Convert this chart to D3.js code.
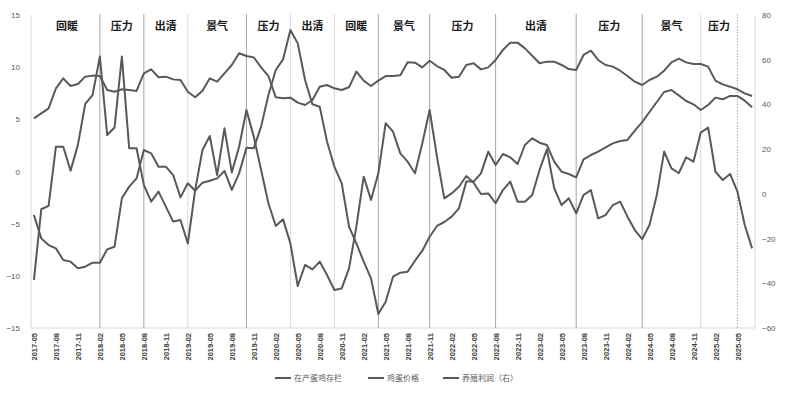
<!DOCTYPE html>
<html><head><meta charset="utf-8">
<script src="https://cdn.jsdelivr.net/npm/d3@7"></script>
<style>body{margin:0;background:#fff}</style>
</head><body><svg id="c" width="787" height="393"></svg>
<script>
const months = ["2017-05","2017-06","2017-07","2017-08","2017-09","2017-10","2017-11","2017-12",
"2018-01","2018-02","2018-03","2018-04","2018-05","2018-06","2018-07","2018-08","2018-09","2018-10","2018-11","2018-12",
"2019-01","2019-02","2019-03","2019-04","2019-05","2019-06","2019-07","2019-08","2019-09","2019-10","2019-11","2019-12",
"2020-01","2020-02","2020-03","2020-04","2020-05","2020-06","2020-07","2020-08","2020-09","2020-10","2020-11","2020-12",
"2021-01","2021-02","2021-03","2021-04","2021-05","2021-06","2021-07","2021-08","2021-09","2021-10","2021-11","2021-12",
"2022-01","2022-02","2022-03","2022-04","2022-05","2022-06","2022-07","2022-08","2022-09","2022-10","2022-11","2022-12",
"2023-01","2023-02","2023-03","2023-04","2023-05","2023-06","2023-07","2023-08","2023-09","2023-10","2023-11","2023-12",
"2024-01","2024-02","2024-03","2024-04","2024-05","2024-06","2024-07","2024-08","2024-09","2024-10","2024-11","2024-12",
"2025-01","2025-02","2025-03","2025-04","2025-05","2025-06","2025-07"];

const tickLabels = ["2017-05","2017-08","2017-11","2018-02","2018-05","2018-08","2018-11","2019-02","2019-05","2019-08",
"2019-11","2020-02","2020-05","2020-08","2020-11","2021-02","2021-05","2021-08","2021-11","2022-02","2022-05","2022-08",
"2022-11","2023-02","2023-05","2023-08","2023-11","2024-02","2024-05","2024-08","2024-11","2025-02","2025-05"];

// 在产蛋鸡存栏 (left axis)
const layerInventory = [-4.17,-6.41,-7.05,-7.37,-8.48,-8.64,-9.28,-9.12,-8.74,-8.74,
-7.46,-7.21,-2.57,-1.45,-0.66,2.06,1.74,0.46,0.46,-0.34,
-2.48,-1.13,-1.84,-1.07,-0.88,-0.66,0.05,-1.77,-0.18,2.28,
2.22,4.30,7.33,9.73,10.75,13.56,12.28,8.77,6.44,6.21,
2.86,0.46,-1.13,-5.29,-6.89,-8.64,-10.24,-13.66,-12.48,-10.08,
-9.70,-9.60,-8.55,-7.59,-6.25,-5.22,-4.84,-4.33,-3.53,-0.97,
-0.97,-0.18,1.90,0.62,1.68,1.36,0.72,2.54,3.18,2.76,
2.54,0.94,-0.02,-0.24,-0.56,1.17,1.58,1.90,2.32,2.70,
2.92,3.02,3.91,4.74,5.70,6.66,7.62,7.81,7.30,6.76,
6.44,5.89,6.37,7.08,6.92,7.24,7.24,6.79,6.15];

// 鸡蛋价格 (left axis)
const eggPrice = [5.09,5.57,6.05,7.97,8.93,8.19,8.39,9.09,9.19,9.15,
7.81,7.65,7.88,7.81,7.72,9.41,9.79,9.03,9.09,8.83,
8.77,7.65,7.11,7.75,8.93,8.61,9.41,10.21,11.33,11.07,
10.94,9.98,9.15,7.11,7.01,7.08,6.60,6.37,6.85,8.13,
8.29,7.97,7.81,8.07,9.57,8.71,8.20,8.71,9.15,9.15,
9.22,10.46,10.43,9.98,10.62,10.11,9.73,8.99,9.09,10.21,
10.37,9.79,9.98,10.69,11.65,12.35,12.35,11.80,11.10,10.37,
10.53,10.53,10.21,9.82,9.73,11.17,11.58,10.69,10.21,10.05,
9.66,9.15,8.61,8.29,8.77,9.09,9.66,10.46,10.81,10.46,
10.30,10.30,10.05,8.71,8.35,8.13,7.88,7.49,7.24];

// 养殖利润（右）(right axis)
const profit = [-38.5,-6.9,-5.4,21.1,21.1,10.4,21.9,40.2,44.2,61.4,
26.3,29.7,61.4,20.4,20.4,4.0,-3.5,1.0,-5.7,-12.4,
-11.7,-22.2,1.7,19.6,25.9,8.4,29.3,9.6,21.1,37.5,
25.6,10.7,-4.2,-14.4,-11.4,-22.2,-41.2,-31.8,-33.8,-30.3,
-36.3,-43.0,-42.3,-33.3,-14.7,7.7,-2.7,9.2,31.6,27.8,
18.1,14.4,9.2,22.6,37.5,16.6,-2.0,0.2,3.2,8.0,
5.0,-0.1,0.2,-4.2,1.7,5.5,-3.5,-3.5,-0.5,10.7,
19.9,2.5,-5.0,-2.0,-8.7,-0.5,1.7,-11.0,-9.5,-5.0,
-3.5,-10.2,-16.2,-20.3,-13.9,-0.5,18.9,11.4,9.2,16.3,
14.4,27.4,29.7,9.9,6.2,8.9,1.0,-13.9,-24.4];

const leftTicks = [-15,-10,-5,0,5,10,15];
const rightTicks = [-60,-40,-20,0,20,40,60,80];

const phaseBounds = ["2017-05","2018-02","2018-08","2019-02","2019-10","2020-04","2020-10","2021-04","2021-11","2022-08","2023-07","2024-04","2024-12","2025-05"];
const phaseNames = ["回暖","压力","出清","景气","压力","出清","回暖","景气","压力","出清","压力","景气","压力"];
const majorDividers = ["2018-02","2018-08","2019-10","2021-04","2021-11","2022-08","2023-07","2024-04"];
const minorDividers = ["2019-02","2020-04","2020-10","2024-12"];
const dottedDividers = ["2025-05"];

const seriesNames = ["在产蛋鸡存栏","鸡蛋价格","养殖利润（右）"];

const svg = d3.select("#c");
const L = 31, R = 755, T = 15, B = 328;
const x = d3.scalePoint().domain(months).range([L, R]).padding(0.4);
const yL = d3.scaleLinear().domain([-15, 15]).range([B, T]);
const yR = d3.scaleLinear().domain([-60, 80]).range([B, T]);
const axisColor = "#d9d9d9";
const textColor = "#595959";
const lineColor = "#595959";

// plot frame lines
svg.append("line").attr("x1", L).attr("x2", L).attr("y1", T).attr("y2", B).attr("stroke", axisColor);
svg.append("line").attr("x1", R).attr("x2", R).attr("y1", T).attr("y2", B).attr("stroke", axisColor);
svg.append("line").attr("x1", L).attr("x2", R).attr("y1", B).attr("y2", B).attr("stroke", axisColor);

// dividers
const divG = svg.append("g");
divG.selectAll(".maj").data(majorDividers).join("line")
  .attr("x1", d => x(d)).attr("x2", d => x(d)).attr("y1", T - 1).attr("y2", B)
  .attr("stroke", "#a6a6a6").attr("stroke-width", 1);
divG.selectAll(".min").data(minorDividers).join("line")
  .attr("x1", d => x(d)).attr("x2", d => x(d)).attr("y1", T - 1).attr("y2", B)
  .attr("stroke", "#d9d9d9").attr("stroke-width", 1);
divG.selectAll(".dot").data(dottedDividers).join("line")
  .attr("x1", d => x(d)).attr("x2", d => x(d)).attr("y1", T - 1).attr("y2", B)
  .attr("stroke", "#a6a6a6").attr("stroke-width", 1).attr("stroke-dasharray", "1.5,1.5");

// phase labels
svg.append("g").selectAll("text").data(phaseNames).join("text")
  .attr("x", (d, i) => (x(phaseBounds[i]) + x(phaseBounds[i + 1])) / 2)
  .attr("y", 30)
  .attr("text-anchor", "middle")
  .attr("font-family", "'Noto Sans CJK SC', sans-serif")
  .attr("font-weight", "bold")
  .attr("font-size", 11)
  .attr("fill", "#1a1a1a")
  .text(d => d);

// axes
const axL = svg.append("g").attr("transform", `translate(${L},0)`)
  .call(d3.axisLeft(yL).tickValues(leftTicks).tickSize(0).tickPadding(11));
const axR = svg.append("g").attr("transform", `translate(${R},0)`)
  .call(d3.axisRight(yR).tickValues(rightTicks).tickSize(0).tickPadding(7));
[axL, axR].forEach(a => {
  a.select(".domain").remove();
  a.selectAll("text").attr("font-family", "'Liberation Sans', Arial, sans-serif")
    .attr("font-size", 8).attr("fill", textColor);
});

const axB = svg.append("g").attr("transform", `translate(0,${B})`)
  .call(d3.axisBottom(x).tickValues(tickLabels).tickSize(0));
axB.select(".domain").remove();
axB.selectAll("text")
  .attr("transform", "translate(0,5) rotate(-90)")
  .attr("x", 0).attr("y", 0).attr("dy", "0.35em")
  .attr("text-anchor", "end")
  .attr("font-family", "'Liberation Sans', Arial, sans-serif")
  .attr("font-weight", "bold")
  .attr("font-size", 7.5)
  .attr("fill", "#404040");

// series lines
const lineL = d3.line().x((d, i) => x(months[i])).y(d => yL(d));
const lineR = d3.line().x((d, i) => x(months[i])).y(d => yR(d));
const g = svg.append("g").attr("fill", "none").attr("stroke", lineColor)
  .attr("stroke-width", 2).attr("stroke-linejoin", "round");
g.append("path").attr("d", lineL(eggPrice));
g.append("path").attr("d", lineL(layerInventory));
g.append("path").attr("d", lineR(profit));

// legend
const legX = [275, 368, 443];
const leg = svg.append("g");
seriesNames.forEach((n, i) => {
  leg.append("line").attr("x1", legX[i]).attr("x2", legX[i] + 16).attr("y1", 378).attr("y2", 378)
    .attr("stroke", lineColor).attr("stroke-width", 2);
  leg.append("text").attr("x", legX[i] + 19).attr("y", 381)
    .attr("font-family", "'Noto Sans CJK SC', sans-serif")
    .attr("font-size", 8).attr("fill", textColor).text(n);
});
</script>
</body></html>
